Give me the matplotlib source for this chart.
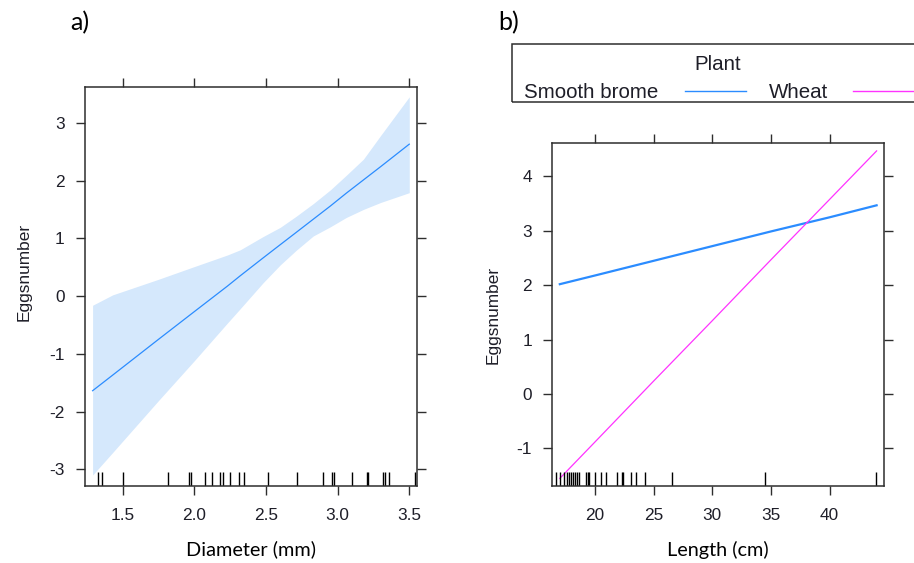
import matplotlib
matplotlib.use("Agg")
import matplotlib.pyplot as plt
from matplotlib.patches import Rectangle
from matplotlib.lines import Line2D

# ---- panel a: effect of diameter ----
diam_x = [1.29, 1.43, 1.75, 2.0, 2.23, 2.32, 2.48, 2.6, 2.71, 2.83, 2.95, 3.06, 3.18, 3.3, 3.5]
diam_fit = [-1.64, -1.37, -0.75, -0.27, 0.17, 0.35, 0.66, 0.89, 1.10, 1.33, 1.56, 1.78,
            2.01, 2.24, 2.63]
diam_upper = [-0.16, 0.02, 0.29, 0.51, 0.71, 0.80, 1.03, 1.19, 1.38, 1.60, 1.84, 2.09,
              2.37, 2.78, 3.45]
diam_lower = [-3.10, -2.71, -1.81, -1.12, -0.47, -0.22, 0.23, 0.54, 0.79, 1.04, 1.20, 1.36,
              1.50, 1.62, 1.79]
diam_rug = [1.33, 1.358, 1.50, 1.814, 1.965, 1.977, 2.077, 2.121, 2.177, 2.202,
            2.247, 2.312, 2.344, 2.514, 2.718, 2.898, 2.958, 2.977, 3.10, 3.203,
            3.214, 3.319, 3.331, 3.361, 3.54]
diam_xticks = [1.5, 2.0, 2.5, 3.0, 3.5]
diam_yticks = [-3, -2, -1, 0, 1, 2, 3]

# ---- panel b: effect of length by plant ----
plant_names = ["Smooth brome", "Wheat"]
plant_colors = ["#2b8cff", "#ff33ff"]
length_x = [17.0, 20, 25, 30, 35, 40, 44.0]
brome_fit = [2.02, 2.18, 2.45, 2.72, 2.99, 3.25, 3.47]
wheat_fit = [-1.55, -0.88, 0.24, 1.35, 2.47, 3.58, 4.47]
length_rug = [16.68, 17.02, 17.36, 17.64, 17.81, 17.98, 18.15, 18.32, 18.49, 18.66,
              19.23, 19.38, 19.51, 20.03, 20.49, 20.96, 21.85, 22.30, 22.41, 23.04,
              23.50, 24.29, 26.59, 34.45, 43.98]
length_xticks = [20, 25, 30, 35, 40]
length_yticks = [-1, 0, 1, 2, 3, 4]

W, H = 914, 563
fig = plt.figure(figsize=(W / 100, H / 100), dpi=100)

frame_col = "#2e2e2e"
text_col = "#1e1e28"
tick_font = dict(family="Liberation Sans", size=12.4, color=text_col)
ylab_font = dict(family="Liberation Sans", size=12.4, color=text_col)
label_font = "Lato"


def px_axes(l, t, r, b):
    return fig.add_axes([l / W, 1 - b / H, (r - l) / W, (b - t) / H])


def style(ax, xticks, xlabels, yticks, xlim, ylim):
    ax.set_xlim(*xlim)
    ax.set_ylim(*ylim)
    ax.set_xticks(xticks)
    ax.set_yticks(yticks)
    ax.set_xticklabels(xlabels, fontdict=tick_font)
    ax.set_yticklabels([f"{v:g}" for v in yticks], fontdict=tick_font)
    ax.tick_params(direction="out", length=6.5, width=1.0, color=frame_col,
                   top=True, right=True, pad=8)
    ax.tick_params(axis="x", pad=9)
    for s in ax.spines.values():
        s.set_color(frame_col)
        s.set_linewidth(1.1)


# panel a
axa = px_axes(85, 87, 417, 486)
axa.fill_between(diam_x, diam_lower, diam_upper, color="#d5e8fc", lw=0)
axa.plot(diam_x, diam_fit, color="#2b8cff", lw=0.9)
axa.vlines(diam_rug, 0, 0.035, transform=axa.get_xaxis_transform(),
           color="black", lw=1.0)
style(axa, diam_xticks, [f"{v:.1f}" for v in diam_xticks], diam_yticks,
      (1.237, 3.554), (-3.29, 3.62))
axa.set_ylabel("Eggsnumber", fontdict=ylab_font)
axa.yaxis.set_label_coords(-0.16, 0.537)
axa.set_xlabel("Diameter (mm)", family=label_font, size=14.3, labelpad=13)

# panel b
axb = px_axes(552.3, 143.3, 884, 486)
axb.plot(length_x, brome_fit, color=plant_colors[0], lw=1.6)
axb.plot(length_x, wheat_fit, color=plant_colors[1], lw=0.9)
axb.vlines(length_rug, 0, 0.041, transform=axb.get_xaxis_transform(),
           color="black", lw=1.0)
style(axb, length_xticks, [f"{v:g}" for v in length_xticks], length_yticks,
      (16.36, 44.63), (-1.69, 4.61))
axb.set_ylabel("Eggsnumber", fontdict=ylab_font)
axb.yaxis.set_label_coords(-0.155, 0.5)
axb.set_xlabel("Length (cm)", family=label_font, size=14.3, labelpad=13)

# panel letters
fig.text(70 / W, 1 - 23 / H, "a)", family=label_font, size=18, va="center", ha="left")
fig.text(498 / W, 1 - 23 / H, "b)", family=label_font, size=18, va="center", ha="left")

# key box for panel b
fig.patches.append(Rectangle((512.3 / W, 1 - 101.7 / H), 0.6, (101.7 - 44.3) / H,
                             transform=fig.transFigure, fill=False,
                             ec=frame_col, lw=1.1, clip_on=False))
key_font = dict(family="Liberation Sans", size=14.8, color=text_col)
fig.text(718 / W, 1 - 65 / H, "Plant", ha="center", va="center", **key_font)
key_text_x = [524.3, 769.3]
key_line_x = [(685, 746), (853.3, 914.3)]
for name, col, tx, (l0, l1) in zip(plant_names, plant_colors, key_text_x, key_line_x):
    fig.text(tx / W, 1 - 92.5 / H, name, ha="left", va="center", **key_font)
    fig.lines.append(Line2D([l0 / W, l1 / W], [1 - 90.7 / H] * 2,
                            transform=fig.transFigure, color=col, lw=1.0))

fig.savefig("out.png", dpi=100)
